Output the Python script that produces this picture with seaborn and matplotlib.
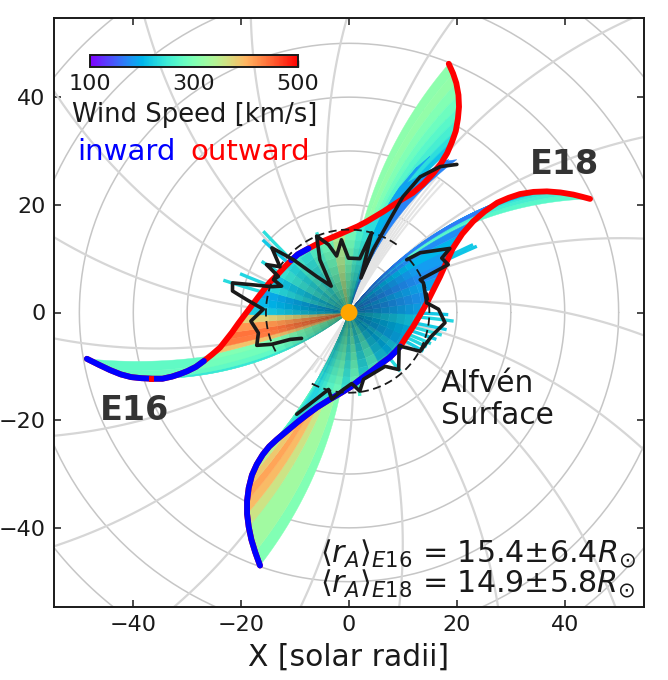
import numpy as np
import matplotlib
matplotlib.use('Agg')
import matplotlib.pyplot as plt
import seaborn as sns

# fan stripes hanging off E16, tip on the left going round to the top
e16_x = [-48.6, -44.3, -40.4, -36.5, -32.8, -30.0, -26.9, -25.4, -23.9, -22.8, -21.7, -20.5, -19.3, -18.1, -16.9, -15.8,
         -14.7, -13.3, -11.9, -10.7, -9.5, -7.5, -5.4, -3.0, -0.7, 1.6, 3.3, 6.3, 8.5]
e16_y = [-8.6, -10.7, -12.0, -12.3, -11.9, -10.9, -9.0, -7.8, -6.5, -5.1, -3.7, -2.0, -0.4, 1.2, 2.8, 4.2,
         5.6, 7.0, 8.5, 9.7, 10.8, 11.9, 13.0, 14.0, 15.0, 16.0, 16.9, 18.7, 20.2]
e16_far = [275, 280, 285, 245, 275, 290, 300, 390, 435, 440, 420, 375, 220, 205, 190, 225,
           200, 235, 215, 240, 225, 250, 280, 335, 290, 250, 235, 200, 185]
e16_near = [275, 280, 285, 245, 275, 290, 300, 390, 435, 440, 420, 375, 215, 200, 195, 230,
            215, 245, 230, 255, 240, 265, 285, 340, 290, 260, 245, 215, 195]
e16_twist = [0.33, 0.38, 0.44, 0.5, 0.45, 0.35, 0.25, 0.15, 0.1, 0.1, 0.1, 0.1, 0.12, 0.12, 0.15, 0.15,
             0.2, 0.2, 0.25, 0.25, 0.3, 0.3, 0.3, 0.3, 0.3, 0.3, 0.3, 0.35, 0.4]

# top part of E16, outermost stripe first
top_x = [18.5, 19.3, 19.9, 20.3, 20.4, 20.2, 19.8, 19.1, 18.2]
top_y = [46.2, 44.4, 42.6, 40.4, 38.2, 36.0, 33.7, 31.7, 29.6]
top_far = [310, 315, 300, 285, 270, 255, 235, 210, 190]
top_near = [230, 225, 215, 210, 200, 200, 190, 185, 180]
top_twist = [0.39, 0.39, 0.4, 0.42, 0.45, 0.47, 0.5, 0.5, 0.53]

patch_x = [15.0, 12.6, 9.5, 18.5, 17.0, 20.0]
patch_y = [29.0, 27.0, 23.4, 28.4, 28.0, 28.4]
patch_far = [185, 180, 190, 175, 170, 205]
patch_twist = [0.53, 0.53, 0.53, 0.53, 0.53, 0.53]

# fan stripes hanging off E18, bottom tip first
e18_x = [-16.5, -17.4, -18.6, -18.9, -18.9, -18.6, -18.0, -17.1, -16.0, -14.8, -13.4, -11.5, -9.6, -7.8, -5.9, -3.5,
         -1.6, 0.2, 2.0, 3.9, 5.7, 7.6, 8.6, 9.5, 10.7, 11.9, 13.2, 14.5, 15.7, 16.9, 18.1, 19.3, 21.0, 23.0]
e18_y = [-47.0, -44.5, -39.8, -37.4, -35.0, -32.6, -30.2, -28.2, -26.4, -24.9, -23.6, -22.0, -20.4, -19.0, -17.6, -16.1,
         -15.0, -13.9, -12.5, -11.1, -9.7, -8.3, -7.3, -6.3, -4.4, -2.6, -0.4, 1.9, 4.3, 6.7, 9.4, 12.0, 14.6, 16.9]
e18_far = [300, 325, 360, 395, 410, 385, 345, 315, 290, 265, 240, 225, 225, 235, 240, 250,
           280, 260, 310, 240, 270, 210, 225, 195, 200, 215, 190, 180, 190, 175, 185, 200, 175, 170]
e18_near = [230, 245, 225, 240, 220, 240, 225, 245, 255, 230, 250, 225, 240, 250, 270, 285,
            245, 280, 230, 260, 215, 200, 215, 195, 200, 215, 190, 180, 190, 175, 185, 200, 175, 170]
e18_twist = [0.38, 0.37, 0.36, 0.35, 0.34, 0.34, 0.34, 0.34, 0.34, 0.36, 0.38, 0.38, 0.38, 0.36, 0.34, 0.3,
             0.3, 0.3, 0.25, 0.25, 0.25, 0.2, 0.2, 0.15, 0.15, 0.1, 0.1, 0.1, 0.15, 0.2, 0.3, 0.4, 0.45, 0.45]

# right ribbon of E18, tip first
right_x = [44.7, 41.6, 39.2, 36.7, 34.2, 31.7, 29.6, 27.5, 25.2]
right_y = [21.1, 21.9, 22.3, 22.5, 22.4, 22.0, 21.3, 20.4, 18.8]
right_far = [270, 255, 245, 205, 190, 170, 175, 165, 170]
right_near = [195, 190, 185, 180, 175, 170, 175, 165, 170]
right_twist = [0.5, 0.5, 0.5, 0.48, 0.47, 0.46, 0.45, 0.45, 0.45]

# the paths themselves
e16_path_x = [-48.6, -46.4, -44.3, -42.3, -40.4, -38.5, -36.5, -34.6, -32.8, -31.3, -30.0, -28.4, -26.9, -25.4, -23.9, -22.8,
              -21.7, -20.5, -19.3, -18.1, -16.9, -15.8, -14.7, -13.3, -11.9, -10.7, -9.5, -7.5, -5.4, -3.0, -0.7, 1.6,
              3.3, 6.3, 9.5, 11.8, 13.7, 15.5, 17.0, 18.2, 19.1, 19.8, 20.2, 20.4, 20.3, 19.9, 19.3, 18.5]
e16_path_y = [-8.6, -9.7, -10.7, -11.5, -12.0, -12.2, -12.3, -12.3, -11.9, -11.4, -10.9, -10.1, -9.0, -7.8, -6.5, -5.1,
              -3.7, -2.0, -0.4, 1.2, 2.8, 4.2, 5.6, 7.0, 8.5, 9.7, 10.8, 11.9, 13.0, 14.0, 15.0, 16.0,
              16.9, 18.7, 20.8, 22.2, 23.8, 25.7, 27.6, 29.6, 31.7, 33.7, 36.0, 38.2, 40.4, 42.6, 44.4, 46.2]
e16_blue = [(0, 13), (25, 28)]
e18_path_x = e18_x[:2] + [-18.1] + e18_x[2:] + [25.2, 27.5, 29.6, 31.7, 34.2, 36.7, 39.2, 41.6, 43.2, 44.7]
e18_path_y = e18_y[:2] + [-42.2] + e18_y[2:] + [18.8, 20.4, 21.3, 22.0, 22.4, 22.5, 22.3, 21.9, 21.5, 21.1]
e18_blue = [(0, 25)]

# Alfven radius traces
alf16_x = [-8.8, -10.9, -14.3, -17.1, -16.8, -18.2, -15.9, -19.0, -21.6, -21.6, -14.3, -12.5, -14.0, -13.1, -15.3, -12.8,
           -14.3, -10.3, -6.0, -3.3, -5.4, -6.0, -3.8, -2.3, -1.4, -0.1, 2.0, 4.2, 2.2, 4.5, 7.6, 10.0, 13.2, 16.9, 20.0]
alf16_y = [-4.8, -5.0, -5.9, -6.1, -3.8, -1.6, 0.6, 2.4, 4.0, 5.5, 4.8, 4.9, 6.1, 6.7, 8.9, 8.5,
           12.0, 9.8, 6.7, 4.9, 9.8, 14.2, 12.6, 10.5, 13.5, 10.1, 10.0, 14.8, 6.4, 11.7, 17.3, 21.5, 25.2, 27.1, 27.5]
alf18_x = [-9.7, -3.8, -3.2, -1.05, 0.5, 2.0, 2.7, 6.7, 9.2, 9.3, 13.2, 15.3, 17.8, 16.6, 14.4, 13.8,
           13.2, 18.4, 17.2, 18.7, 13.2, 10.7]
alf18_y = [-18.9, -14.3, -16.1, -14.3, -13.2, -14.6, -12.4, -10.0, -10.6, -6.2, -7.2, -4.4, -1.9, 0.6, 1.8, 5.5,
           6.1, 8.9, 10.1, 11.9, 11.1, 9.8]

# cyan streaks reaching past the traces
spike_x = [-23.3, -20.2, -15.9, -16.0, -16.2, -6.0, 19.4, 18.4, 18.1, 17.2, 16.2, 15.2, 14.4, 13.8, 23.7, 21.8, 9.5, 2.0, 23.0, 20.0]
spike_y = [6.0, 7.2, 15.1, 13.5, 9.5, 14.9, -1.6, -0.4, -3.2, -4.2, -5.0, -5.8, -6.4, -7.2, 12.3, 11.7, -10.9, -15.5, 12.6, 13.0]
spike_v = [230, 225, 235, 215, 230, 245, 225, 215, 220, 230, 220, 230, 225, 220, 215, 210, 230, 260, 215, 210]

# streams with no speed data
grey_x = [17.4, 16.8, 16.2, 15.6, 15.0, 14.4, 13.8, -6.9, -6.2, -5.4, -4.6]
grey_y = [24.0, 24.6, 25.1, 25.6, 26.0, 26.4, 26.8, -10.5, -11.0, -11.5, -12.0]
grey_twist = [0.25] * 7 + [0.2] * 4

grid_radii = [10, 20, 30, 40, 50, 60, 70, 80]
grid_angles = [12, 31, 49.9, 68.9, 87.8, 106.8, 125.7, 144.7, 163.6, 182.6, 201.5, 220.5, 239.4, 258.4, 277.3, 296.3, 315.2, 334.2, 353.1]
grid_twist = 0.3

tick_vals = [-40, -20, 0, 20, 40]

sns.set_theme(style='ticks')
plt.rcParams['font.family'] = ['DejaVu Sans']
plt.rcParams['mathtext.fontset'] = 'dejavusans'
plt.rcParams['text.color'] = 'k'
plt.rcParams['axes.labelcolor'] = 'k'
plt.rcParams['xtick.color'] = 'k'
plt.rcParams['ytick.color'] = 'k'

fig = plt.figure(figsize=(6.68, 6.80), dpi=100)
ax = fig.add_axes([54 / 668, 73 / 680, 590 / 668, 589 / 680])
norm = plt.Normalize(100, 500)
cmap = plt.get_cmap('rainbow')


def stream(x, y, twist, r):
    # follow a Parker-like spiral back towards the Sun
    big_r = np.hypot(x, y)
    phi = np.degrees(np.arctan2(y, x)) + twist * (big_r - r)
    return r * np.cos(np.radians(phi)), r * np.sin(np.radians(phi))


def stripes(xs, ys, far, near, twist, z=2):
    edges = np.arange(0, 16.5, 1.5)
    for i in range(len(xs) - 1):
        r0 = np.hypot(xs[i], ys[i])
        r1 = np.hypot(xs[i + 1], ys[i + 1])
        # far part, plain colour
        if min(r0, r1) > 15:
            a = stream(xs[i], ys[i], twist[i], np.linspace(15, r0, 30))
            b = stream(xs[i + 1], ys[i + 1], twist[i + 1], np.linspace(15, r1, 30))
            c = cmap(norm(far[i]))
            ax.fill(np.r_[a[0], b[0][::-1]], np.r_[a[1], b[1][::-1]], color=c, lw=0.3, zorder=z)
        # near part gets darker towards the Sun
        for lo, hi in zip(edges[:-1], edges[1:]):
            if lo >= max(r0, r1):
                continue
            a = stream(xs[i], ys[i], twist[i], np.linspace(lo, min(hi, r0), 5))
            b = stream(xs[i + 1], ys[i + 1], twist[i + 1], np.linspace(lo, min(hi, r1), 5))
            f = 0.55 + 0.42 * hi / 15
            c = np.array(cmap(norm(near[i])))[:3] * f
            ax.fill(np.r_[a[0], b[0][::-1]], np.r_[a[1], b[1][::-1]], color=c, lw=0.3, zorder=z)


# grid
for rad in grid_radii:
    t = np.linspace(0, 2 * np.pi, 361)
    sns.lineplot(x=rad * np.cos(t), y=rad * np.sin(t), sort=False, estimator=None, color='#c6c6c6', lw=1.1, ax=ax, zorder=1)
for ang in grid_angles:
    r = np.linspace(10, 90, 60)
    phi = np.radians(ang - grid_twist * r)
    sns.lineplot(x=r * np.cos(phi), y=r * np.sin(phi), sort=False, estimator=None, color='#d6d6d6', lw=1.6, ax=ax, zorder=1)

# streaks and grey streams sit under the coloured fans
for x, y, v in zip(spike_x, spike_y, spike_v):
    sx, sy = stream(x, y, 0.15, np.linspace(8, np.hypot(x, y), 12))
    ax.plot(sx, sy, color=cmap(norm(v)), lw=2.4, solid_capstyle='butt', zorder=1.5)
for x, y, k in zip(grey_x, grey_y, grey_twist):
    sx, sy = stream(x, y, k, np.linspace(2, np.hypot(x, y), 20))
    ax.plot(sx, sy, color='#e4e4e4', lw=1.5, zorder=1.6)

stripes(top_x, top_y, top_far, top_near, top_twist)
stripes(patch_x, patch_y, patch_far, patch_far, patch_twist)
stripes(right_x, right_y, right_far, right_near, right_twist)
stripes(e18_x, e18_y, e18_far, e18_near, e18_twist)
stripes(e16_x, e16_y, e16_far, e16_near, e16_twist)


def path(xs, ys, blue):
    sns.lineplot(x=xs, y=ys, sort=False, estimator=None, color='#ff0000', lw=4.2, ax=ax, zorder=4, solid_capstyle='round')
    for s, e in blue:
        sns.lineplot(x=xs[s:e], y=ys[s:e], sort=False, estimator=None, color='#0000ff', lw=4.2, ax=ax, zorder=4.1, solid_capstyle='round')


path(e16_path_x, e16_path_y, e16_blue)
path(e18_path_x, e18_path_y, e18_blue)
ax.plot([-37.0, -36.2], [-12.3, -12.3], color='#ff0000', lw=4.2, zorder=4.2, solid_capstyle='butt')

sns.lineplot(x=alf16_x, y=alf16_y, sort=False, estimator=None, color='k', lw=2.6, ax=ax, zorder=5)
sns.lineplot(x=alf18_x, y=alf18_y, sort=False, estimator=None, color='k', lw=2.6, ax=ax, zorder=5)

# mean Alfven surface
for r_mean, a0, a1 in [(15.4, 55, 208), (14.9, 242.4, 402.5)]:
    t = np.radians(np.linspace(a0, a1, 100))
    ax.plot(r_mean * np.cos(t), r_mean * np.sin(t), color='k', lw=1.3, ls=(0, (4.5, 2.5)), zorder=5)

sns.scatterplot(x=[0], y=[0], color='orange', s=150, edgecolor='none', ax=ax, zorder=6)

ax.set_xlim(-54.7, 54.7)
ax.set_ylim(-54.7, 54.7)
ax.set_xticks(tick_vals)
ax.set_yticks(tick_vals)
ax.tick_params(direction='in', top=True, right=True, length=5, width=1.1, labelsize=16, pad=6)
for s in ax.spines.values():
    s.set_linewidth(1.4)
    s.set_color('k')
ax.set_xlabel('X [solar radii]', fontsize=21.4, labelpad=5)
ax.set_ylabel('')

cax = fig.add_axes([90 / 668, 613 / 680, 208 / 668, 12 / 680])
sm = plt.cm.ScalarMappable(norm=norm, cmap=cmap)
cb = fig.colorbar(sm, cax=cax, orientation='horizontal', ticks=[100, 300, 500])
cb.ax.tick_params(direction='in', length=5, width=1, labelsize=16, pad=5)
cb.outline.set_linewidth(1.4)
cb.outline.set_edgecolor('k')

ax.text(-51.4, 35.4, 'Wind Speed [km/s]', fontsize=18.6, zorder=8)
ax.text(-50.3, 28.4, 'inward', fontsize=21, color='#0000ff', zorder=8)
ax.text(-29.5, 28.4, 'outward', fontsize=21, color='#ff0000', zorder=8)
ax.text(-46.2, -19.9, 'E16', fontsize=24, fontweight='bold', color='#333333', zorder=8)
ax.text(33.6, 25.8, 'E18', fontsize=24, fontweight='bold', color='#333333', zorder=8)
ax.text(17, -14.8, 'Alfvén', fontsize=21.3, zorder=8)
ax.text(17, -20.8, 'Surface', fontsize=21.3, zorder=8)
ax.text(-5.4, -46.4, r'$\langle r_A \rangle_{E16}$ = 15.4$\pm$6.4$R_{\odot}$', fontsize=21.7, zorder=8)
ax.text(-5.4, -52, r'$\langle r_A \rangle_{E18}$ = 14.9$\pm$5.8$R_{\odot}$', fontsize=21.7, zorder=8)

fig.savefig('out.png', dpi=100)
